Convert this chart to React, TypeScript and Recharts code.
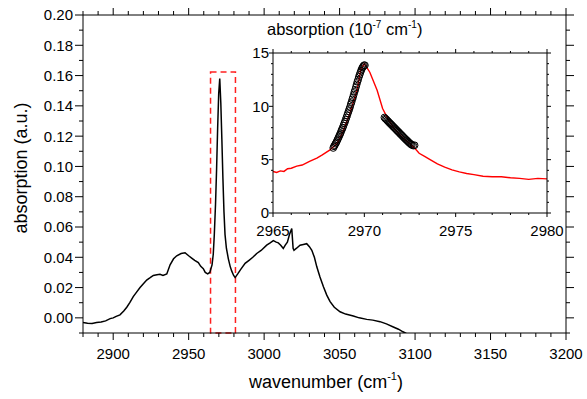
import React from "react";
import { LineChart, Line, XAxis, YAxis, ReferenceArea } from "recharts";

// main spectrum (absorption, a.u.)
const spectrumWavenumber = [
  2880, 2883, 2886, 2889, 2892, 2895, 2898, 2900, 2902, 2904.5, 2907, 2909, 2911,
  2913.3, 2915.5, 2917.8, 2920, 2922.2, 2924.5, 2926.6, 2929, 2931, 2933, 2935.5,
  2937.7, 2940, 2942.1, 2945, 2947.6, 2950, 2952, 2954, 2956.4, 2958, 2959.7, 2961,
  2962.6, 2964, 2965.5, 2966.3, 2967, 2967.8, 2968.5, 2969.2, 2969.9, 2970.6, 2971.3,
  2972, 2972.7, 2973.4, 2974.1, 2975, 2976.3, 2977.5, 2978.5, 2979.8, 2980.8, 2982.5,
  2984.5, 2987.4, 2990, 2992.5, 2995.1, 2998, 3001.7, 3004, 3006.1, 3008, 3009.4, 3011,
  3012.7, 3014, 3015.4, 3016.8, 3018.3, 3019.2, 3019.8, 3021.5, 3023.8, 3026, 3028.2,
  3030, 3031.6, 3033.3, 3034.9, 3037, 3039.3, 3041.5, 3043.7, 3046.5, 3050.3, 3054,
  3059.1, 3063, 3068, 3072, 3076.8, 3081, 3085.6, 3089, 3092, 3094.5,
];
const spectrumAbsorption = [
  -0.003, -0.0035, -0.0037, -0.003, -0.0028, -0.002, -0.0005, 0.0, 0.001, 0.002, 0.0045,
  0.007, 0.01, 0.014, 0.017, 0.02, 0.0225, 0.025, 0.0265, 0.028, 0.0285, 0.0288, 0.028,
  0.029, 0.035, 0.039, 0.041, 0.0425, 0.043, 0.041, 0.0395, 0.038, 0.0365, 0.034, 0.0325,
  0.03, 0.029, 0.03, 0.035, 0.042, 0.055, 0.075, 0.098, 0.125, 0.148, 0.158, 0.142, 0.118,
  0.092, 0.07, 0.055, 0.046, 0.039, 0.034, 0.031, 0.028, 0.0266, 0.029, 0.032, 0.036,
  0.038, 0.04, 0.0425, 0.0445, 0.048, 0.0495, 0.051, 0.05, 0.0495, 0.048, 0.0458, 0.048,
  0.05, 0.055, 0.059, 0.046, 0.0446, 0.046, 0.048, 0.0485, 0.049, 0.047, 0.0446, 0.04,
  0.0337, 0.027, 0.0205, 0.015, 0.0107, 0.007, 0.004, 0.0025, 0.0012, 0.0, -0.001,
  -0.0015, -0.0025, -0.004, -0.006, -0.0075, -0.0092, -0.0105,
];

// inset: fitted curve (10^-7 cm^-1)
const fitWavenumber = [
  2965, 2965.2, 2965.4, 2965.6, 2965.8, 2966, 2966.3, 2966.6, 2967, 2967.4, 2967.7, 2968.1,
  2968.5, 2968.8, 2969.2, 2969.6, 2969.8, 2970, 2970.3, 2970.7, 2971, 2971.3, 2971.6,
  2971.9, 2972.2, 2972.5, 2972.8, 2973, 2973.3, 2973.6, 2974, 2974.4, 2974.8, 2975.2,
  2975.6, 2976, 2976.5, 2977, 2977.5, 2978, 2978.5, 2979, 2979.5, 2980,
];
const fitAbsorption = [
  3.9, 3.8, 3.95, 3.9, 4.15, 4.2, 4.4, 4.5, 4.85, 5.15, 5.45, 5.9, 6.5, 7.5, 9.3, 11.5,
  13.4, 14.0, 13.2, 11.5, 9.8, 8.8, 8.0, 7.4, 6.9, 6.5, 6.0, 5.6, 5.3, 5.0, 4.6, 4.3, 4.05,
  3.85, 3.7, 3.6, 3.45, 3.4, 3.4, 3.3, 3.25, 3.15, 3.25, 3.2,
];

// inset: measured points, rising side and falling side
const risingWavenumber = [
  2968.3, 2968.34, 2968.38, 2968.42, 2968.46, 2968.5, 2968.54, 2968.58, 2968.62, 2968.66,
  2968.7, 2968.74, 2968.78, 2968.82, 2968.86, 2968.9, 2968.94, 2968.98, 2969.02, 2969.06,
  2969.1, 2969.14, 2969.18, 2969.22, 2969.26, 2969.3, 2969.34, 2969.38, 2969.42, 2969.46,
  2969.5, 2969.54, 2969.58, 2969.62, 2969.66, 2969.7, 2969.74, 2969.78, 2969.82, 2969.86,
  2969.9, 2969.94, 2969.98, 2970.03,
];
const risingAbsorption = [
  6.1, 6.25, 6.35, 6.5, 6.6, 6.75, 6.9, 7.05, 7.2, 7.35, 7.5, 7.7, 7.85, 8.0, 8.2, 8.4,
  8.55, 8.75, 8.95, 9.15, 9.35, 9.55, 9.75, 9.95, 10.2, 10.4, 10.65, 10.85, 11.1, 11.35,
  11.55, 11.8, 12.05, 12.3, 12.5, 12.75, 12.95, 13.15, 13.35, 13.5, 13.65, 13.75, 13.85,
  13.85,
];
const fallingWavenumber = [
  2971.1, 2971.15, 2971.2, 2971.25, 2971.3, 2971.35, 2971.4, 2971.45, 2971.5, 2971.55,
  2971.6, 2971.65, 2971.7, 2971.75, 2971.8, 2971.85, 2971.9, 2971.95, 2972.0, 2972.05,
  2972.1, 2972.15, 2972.2, 2972.25, 2972.3, 2972.35, 2972.4, 2972.45, 2972.5, 2972.55,
  2972.6, 2972.68, 2972.75,
];
const fallingAbsorption = [
  8.95, 8.85, 8.78, 8.68, 8.6, 8.5, 8.42, 8.33, 8.25, 8.15, 8.07, 7.98, 7.9, 7.8, 7.72,
  7.63, 7.55, 7.45, 7.37, 7.28, 7.2, 7.1, 7.02, 6.93, 6.85, 6.77, 6.68, 6.6, 6.52, 6.45,
  6.38, 6.32, 6.35,
];

// ticks
const mainXTicks = [
  2880, 2890, 2900, 2910, 2920, 2930, 2940, 2950, 2960, 2970, 2980, 2990, 3000, 3010,
  3020, 3030, 3040, 3050, 3060, 3070, 3080, 3090, 3100, 3110, 3120, 3130, 3140, 3150,
  3160, 3170, 3180, 3190, 3200,
];
const mainYTicks = [
  -0.01, 0.0, 0.01, 0.02, 0.03, 0.04, 0.05, 0.06, 0.07, 0.08, 0.09, 0.1, 0.11, 0.12, 0.13,
  0.14, 0.15, 0.16, 0.17, 0.18, 0.19, 0.2,
];
const insetXTicks = [
  2965, 2966, 2967, 2968, 2969, 2970, 2971, 2972, 2973, 2974, 2975, 2976, 2977, 2978,
  2979, 2980,
];
const insetYTicks = [0, 1, 2, 3, 4, 5, 6, 7, 8, 9, 10, 11, 12, 13, 14, 15];

// dashed box marking the zoomed region
const zoomBox = { x1: 2964.5, x2: 2981, top: 0.1624 };

const FONT = "'Liberation Sans', Arial, sans-serif";

const zip = (xs: number[], ys: number[]) => xs.map((x, i) => ({ x, y: ys[i] }));

const spectrumData = zip(spectrumWavenumber, spectrumAbsorption);
const fitData = zip(fitWavenumber, fitAbsorption);
const risingData = zip(risingWavenumber, risingAbsorption);
const fallingData = zip(fallingWavenumber, fallingAbsorption);

type Side = "bottom" | "top" | "left" | "right";

interface TickOpts {
  major: number;
  minor: number;
  gap: number;
  isMajor: (v: number) => boolean;
  format?: (v: number) => string;
}

// draws its own tick line (major/minor) and a label for majors
function makeTick(side: Side, opts: TickOpts) {
  return (props: any) => {
    const { x, y, payload } = props;
    const v = payload.value as number;
    const major = opts.isMajor(v);
    const len = major ? opts.major : opts.minor;
    const showLabel = major && opts.format;
    let line;
    let label = null;
    if (side === "bottom") {
      line = <line x1={x} y1={y} x2={x} y2={y + len} stroke="#000" />;
      if (showLabel)
        label = (
          <text x={x} y={y + opts.gap} dy="0.71em" textAnchor="middle" fontSize={15} fontFamily={FONT} fill="#000">
            {opts.format!(v)}
          </text>
        );
    } else if (side === "top") {
      line = <line x1={x} y1={y} x2={x} y2={y - len} stroke="#000" />;
    } else if (side === "left") {
      line = <line x1={x} y1={y} x2={x - len} y2={y} stroke="#000" />;
      if (showLabel)
        label = (
          <text x={x - opts.gap} y={y} dy="0.36em" textAnchor="end" fontSize={15} fontFamily={FONT} fill="#000">
            {opts.format!(v)}
          </text>
        );
    } else {
      line = <line x1={x} y1={y} x2={x + len} y2={y} stroke="#000" />;
    }
    return (
      <g>
        {line}
        {label}
      </g>
    );
  };
}

const mainXMajor = (v: number) => Math.round(v) % 50 === 0;
const mainYMajor = (v: number) => Math.round(v * 100) % 2 === 0;
const insetXMajor = (v: number) => Math.round(v) % 5 === 0;
const insetYMajor = (v: number) => Math.round(v) % 5 === 0;

const axisLine = { stroke: "#000", strokeWidth: 1 };
const circleDot = { r: 3.4, stroke: "#000", strokeWidth: 1, fill: "none" };

function MainChart() {
  return (
    <LineChart width={587} height={399} margin={{ top: 14, right: 20, left: 0, bottom: 0 }}>
      <XAxis
        xAxisId="b"
        dataKey="x"
        type="number"
        domain={[2880, 3200]}
        ticks={mainXTicks}
        interval={0}
        allowDataOverflow
        height={66}
        tickSize={0}
        tickMargin={0}
        tickLine={false}
        axisLine={axisLine}
        tick={makeTick("bottom", { major: 7, minor: 4, gap: 15, isMajor: mainXMajor, format: (v) => String(v) })}
      />
      <XAxis
        xAxisId="t"
        orientation="top"
        dataKey="x"
        type="number"
        domain={[2880, 3200]}
        ticks={mainXTicks}
        interval={0}
        allowDataOverflow
        height={1}
        tickSize={0}
        tickMargin={0}
        tickLine={false}
        axisLine={axisLine}
        tick={makeTick("top", { major: 7, minor: 4, gap: 0, isMajor: mainXMajor })}
      />
      <YAxis
        yAxisId="l"
        type="number"
        domain={[-0.01, 0.2]}
        ticks={mainYTicks}
        interval={0}
        allowDataOverflow
        width={83}
        tickSize={0}
        tickMargin={0}
        tickLine={false}
        axisLine={axisLine}
        tick={makeTick("left", { major: 8, minor: 4, gap: 10, isMajor: mainYMajor, format: (v) => v.toFixed(2) })}
      />
      <YAxis
        yAxisId="r"
        orientation="right"
        type="number"
        domain={[-0.01, 0.2]}
        ticks={mainYTicks}
        interval={0}
        allowDataOverflow
        width={1}
        tickSize={0}
        tickMargin={0}
        tickLine={false}
        axisLine={axisLine}
        tick={makeTick("right", { major: 8, minor: 4, gap: 0, isMajor: mainYMajor })}
      />
      {/* hidden copy so the top/right frame axes get drawn */}
      <Line
        xAxisId="t"
        yAxisId="r"
        data={spectrumData}
        dataKey="y"
        stroke="none"
        dot={false}
        activeDot={false}
        isAnimationActive={false}
      />
      <Line
        xAxisId="b"
        yAxisId="l"
        data={spectrumData}
        dataKey="y"
        type="linear"
        stroke="#000"
        strokeWidth={1.5}
        dot={false}
        isAnimationActive={false}
      />
      <ReferenceArea
        xAxisId="b"
        yAxisId="l"
        x1={zoomBox.x1}
        x2={zoomBox.x2}
        y1={-0.01}
        y2={zoomBox.top}
        fill="none"
        fillOpacity={0}
        stroke="#ff2020"
        strokeWidth={1.5}
        strokeDasharray="6 4"
      />
    </LineChart>
  );
}

function InsetChart() {
  return (
    <LineChart width={340} height={225} margin={{ top: 32, right: 22, left: 0, bottom: 0 }}>
      <XAxis
        xAxisId="b"
        dataKey="x"
        type="number"
        domain={[2965, 2980]}
        ticks={insetXTicks}
        interval={0}
        allowDataOverflow
        height={32}
        tickSize={0}
        tickMargin={0}
        tickLine={false}
        axisLine={axisLine}
        tick={makeTick("bottom", { major: 4, minor: 2, gap: 12, isMajor: insetXMajor, format: (v) => String(v) })}
      />
      <XAxis
        xAxisId="t"
        orientation="top"
        dataKey="x"
        type="number"
        domain={[2965, 2980]}
        ticks={insetXTicks}
        interval={0}
        allowDataOverflow
        height={1}
        tickSize={0}
        tickMargin={0}
        tickLine={false}
        axisLine={axisLine}
        tick={makeTick("top", { major: 4, minor: 2, gap: 0, isMajor: insetXMajor })}
      />
      <YAxis
        yAxisId="l"
        type="number"
        domain={[0, 15]}
        ticks={insetYTicks}
        interval={0}
        allowDataOverflow
        width={43}
        tickSize={0}
        tickMargin={0}
        tickLine={false}
        axisLine={axisLine}
        tick={makeTick("left", { major: 4, minor: 2, gap: 4, isMajor: insetYMajor, format: (v) => String(v) })}
      />
      <YAxis
        yAxisId="r"
        orientation="right"
        type="number"
        domain={[0, 15]}
        ticks={insetYTicks}
        interval={0}
        allowDataOverflow
        width={1}
        tickSize={0}
        tickMargin={0}
        tickLine={false}
        axisLine={axisLine}
        tick={makeTick("right", { major: 4, minor: 2, gap: 0, isMajor: insetYMajor })}
      />
      {/* hidden copy so the top/right frame axes get drawn */}
      <Line
        xAxisId="t"
        yAxisId="r"
        data={fitData}
        dataKey="y"
        stroke="none"
        dot={false}
        activeDot={false}
        isAnimationActive={false}
      />
      <Line
        xAxisId="b"
        yAxisId="l"
        data={risingData}
        dataKey="y"
        stroke="none"
        dot={circleDot}
        isAnimationActive={false}
      />
      <Line
        xAxisId="b"
        yAxisId="l"
        data={fallingData}
        dataKey="y"
        stroke="none"
        dot={circleDot}
        isAnimationActive={false}
      />
      <Line
        xAxisId="b"
        yAxisId="l"
        data={fitData}
        dataKey="y"
        type="linear"
        stroke="#ff0000"
        strokeWidth={1.4}
        dot={false}
        isAnimationActive={false}
      />
    </LineChart>
  );
}

export default function App() {
  return (
    <div style={{ position: "relative", width: 587, height: 399, background: "#fff", fontFamily: FONT }}>
      <style>{`body{margin:0}`}</style>
      <div style={{ position: "absolute", left: 0, top: 0 }}>
        <MainChart />
      </div>
      <div style={{ position: "absolute", left: 230, top: 20 }}>
        <InsetChart />
      </div>
      <svg width={587} height={399} style={{ position: "absolute", left: 0, top: 0, pointerEvents: "none" }}>
        <text transform="translate(27,168) rotate(-90)" textAnchor="middle" fontSize={18} fontFamily={FONT} fill="#000">
          absorption (a.u.)
        </text>
        <text x={326} y={388} textAnchor="middle" fontSize={18} fontFamily={FONT} fill="#000">
          wavenumber (cm
          <tspan dy={-8} fontSize={11}>-1</tspan>
          <tspan dy={8}>)</tspan>
        </text>
        <text x={267} y={35} fontSize={16.5} fontFamily={FONT} fill="#000">
          absorption (10
          <tspan dy={-7} fontSize={10}>-7</tspan>
          <tspan dy={7}> cm</tspan>
          <tspan dy={-7} fontSize={10}>-1</tspan>
          <tspan dy={7}>)</tspan>
        </text>
      </svg>
    </div>
  );
}
